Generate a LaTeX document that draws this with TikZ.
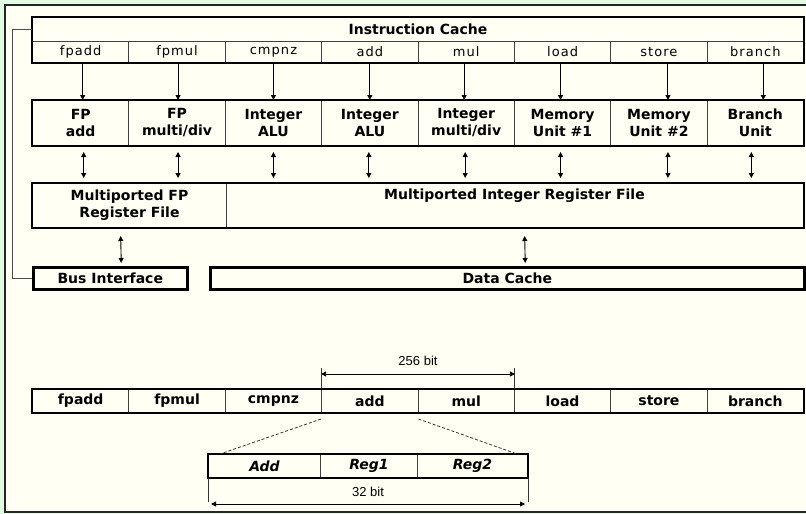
\documentclass[tikz,border=0pt]{standalone}
\usepackage{fontspec}
\setmainfont{DejaVu Sans}
\newfontfamily\dimfont{Liberation Sans}
\newfontfamily\opfont[LetterSpace=8]{DejaVu Sans}
\usetikzlibrary{arrows.meta}
\definecolor{outergreen}{HTML}{E4FCE4}
\definecolor{paper}{HTML}{FFFFF4}
\tikzset{
 cell/.style={draw=black!75, line width=1pt, minimum width=96.375pt, inner sep=0pt, anchor=north west},
 thickbox/.style={draw, line width=2.6pt},
 optext/.style={font=\opfont\fontsize{13}{15}\selectfont},
 unittext/.style={font=\fontsize{14}{17}\selectfont\bfseries},
 fmttext/.style={font=\fontsize{14}{17}\selectfont\bfseries\itshape},
 arr/.style={-{Triangle[length=5pt,width=5pt]}, line width=0.9pt},
 darr/.style={{Triangle[length=5pt,width=5pt]}-{Triangle[length=5pt,width=5pt]}, line width=0.9pt},
 dimline/.style={line width=0.8pt, black!80},
 dimtext/.style={font=\dimfont\fontsize{13}{15}\selectfont},
}
\begin{document}
\begin{tikzpicture}[x=1pt,y=-1pt]
 \useasboundingbox (0,0) rectangle (806,514);
 \fill[outergreen] (0,0) rectangle (806,514);
 \fill[paper] (5,5) rectangle (806,512);
 \draw[line width=1.6pt, black!85] (806,5) -- (5,5) -- (5,512) -- (806,512);

 % instruction cache
 \node[cell, minimum width=771pt, minimum height=24pt, unittext] (icache) at (32,17) {Instruction Cache};
 \foreach \op [count=\i] in {fpadd,fpmul,cmpnz,add,mul,load,store,branch}
  \node[cell, minimum height=21pt, optext] (op\i) at ({32+96.375*(\i-1)},41) {\op};
 \draw[thickbox] (icache.north west) rectangle (op8.south east);

 % functional units
 \foreach \lbl [count=\i] in {{FP\\add},{FP\\multi/div},{Integer\\ALU},{Integer\\ALU},{Integer\\multi/div},{Memory\\Unit \#1},{Memory\\Unit \#2},{Branch\\Unit}}
  \node[cell, minimum height=45pt, align=center, unittext] (fu\i) at ({32+96.375*(\i-1)},100) {\lbl};
 \draw[thickbox] (fu1.north west) rectangle (fu8.south east);

 \foreach \i/\dx in {1/2,2/1,3/0,4/0,5/-2,6/-2,7/9,8/8}
  \draw[arr] ([xshift=\dx pt]op\i.south) -- ([xshift=\dx pt]fu\i.north);

 % register files
 \node[cell, minimum width=194pt, minimum height=44pt, align=center, unittext] (fpreg) at (32,183) {Multiported FP\\Register File};
 \node[cell, minimum width=577pt, minimum height=44pt] (intreg) at (226,183) {};
 \node[unittext] (intlbl) at (514.5,196) {Multiported Integer Register File};
 \draw[thickbox] (fpreg.north west) rectangle (intreg.south east);

 \foreach \i/\dx in {1/3,2/1,3/0,4/-1,5/-1,6/-2,7/9,8/-4}
  \draw[darr, shorten <=6pt, shorten >=5pt] ([xshift=\dx pt]fu\i.south) -- ([xshift=\dx pt]fu\i.south |- fpreg.north);

 % bus interface and data cache
 \node[thickbox, minimum width=154pt, minimum height=22pt, inner sep=0pt, anchor=north west, unittext] (bus) at (32,266) {Bus Interface};
 \node[thickbox, minimum width=594pt, minimum height=22pt, inner sep=0pt, anchor=north west, unittext] (dcache) at (209,266) {Data Cache};
 \draw[darr, shorten <=8pt, shorten >=3pt] ([xshift=-9pt]fpreg.south) -- ([xshift=11pt]bus.north);
 \draw[darr, shorten <=8pt, shorten >=3pt] ([xshift=9.5pt]intreg.south) -- ([xshift=18pt]dcache.north);
 \draw[line width=1pt, black!70] (icache.west) -- ++(-20,0) |- (bus.west);

 % instruction word
 \foreach \op [count=\i] in {fpadd,fpmul,cmpnz,add,mul,load,store,branch}
  \node[cell, minimum height=23pt, unittext] (w\i) at ({32+96.375*(\i-1)},389) {\op};
 \draw[thickbox] (w1.north west) rectangle (w8.south east);

 \coordinate (d1) at ([yshift=21pt]w4.north west);
 \coordinate (d2) at ([yshift=21pt]w5.north east);
 \draw[dimline] (w4.north west) -- (d1);
 \draw[dimline] (w5.north east) -- (d2);
 \draw[darr, line width=0.8pt] ([yshift=-6pt]d1) -- node[above=5pt, dimtext] (wide) {256 bit} ([yshift=-6pt]d2);

 % operation format
 \node[cell, minimum width=112pt, minimum height=23pt, fmttext] (f1) at (208,454) {Add};
 \node[cell, minimum width=97pt, minimum height=23pt, fmttext] (f2) at (320,454) {Reg1};
 \node[cell, minimum width=110pt, minimum height=23pt, fmttext] (f3) at (417,454) {Reg2};
 \draw[thickbox] (f1.north west) rectangle (f3.south east);

 \draw[dimline, densely dashed] ([yshift=-6pt]w4.south west) -- ([xshift=12pt]f1.north west);
 \draw[dimline, densely dashed] ([yshift=-6pt]w4.south east) -- ([xshift=-11pt]f3.north east);

 \coordinate (e1) at ([yshift=-24pt]f1.south west);
 \coordinate (e2) at ([yshift=-24pt]f3.south east);
 \draw[dimline] (f1.south west) -- (e1);
 \draw[dimline] (f3.south east) -- (e2);
 \draw[darr, line width=0.8pt, shorten <=3pt, shorten >=3pt] ([yshift=-2pt]e1) -- node[above=4pt, dimtext] (narrow) {32 bit} ([yshift=-2pt]e2);
\end{tikzpicture}
\end{document}
